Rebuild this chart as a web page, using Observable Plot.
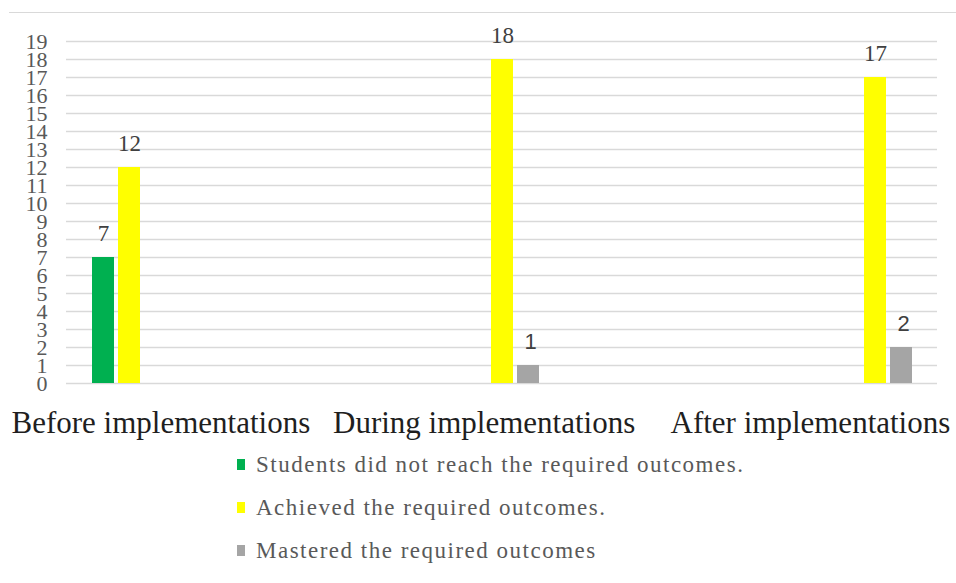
<!DOCTYPE html>
<html>
<head>
<meta charset="utf-8">
<script src="https://cdn.jsdelivr.net/npm/d3@7"></script>
<script src="https://cdn.jsdelivr.net/npm/@observablehq/plot@0.6"></script>
<style>
  body { margin: 0; background: #fff; }
  #chart { position: relative; width: 956px; height: 583px; overflow: hidden; background: #fff; }
  #chart > svg { position: absolute; left: 0; top: 0; }
  #topline { position: absolute; left: 9px; top: 12px; width: 947px; border-top: 1.5px solid #d9d9d9; }
  #legend { position: absolute; left: 237px; top: 443px; font-family: "Liberation Serif", "Times New Roman", serif;
            font-size: 23px; color: #595959; letter-spacing: 1.5px; }
  #legend .row { display: flex; align-items: center; height: 43px; white-space: nowrap; }
  #legend .sw { width: 8px; height: 11px; margin-right: 11px; flex: none; }
</style>
</head>
<body>
<div id="chart"><div id="topline"></div></div>
<script>
// Categories and series
const periods = ["Before implementations", "During implementations", "After implementations"];
const seriesNames = [
  "Students did not reach the required outcomes.",
  "Achieved the required outcomes.",
  "Mastered the required outcomes"
];
// Values per series, one entry per period (null = no bar)
const notReached = [7, null, null];
const achieved = [12, 18, 17];
const mastered = [null, 1, 2];
const seriesColors = ["#00b050", "#ffff00", "#a5a5a5"];
const yTicks = [0, 1, 2, 3, 4, 5, 6, 7, 8, 9, 10, 11, 12, 13, 14, 15, 16, 17, 18, 19];

const seriesValues = [notReached, achieved, mastered];
const rows = [];
periods.forEach((p, i) => {
  seriesNames.forEach((s, j) => {
    const v = seriesValues[j][i];
    if (v != null) rows.push({period: p, series: s, value: v});
  });
});

const serif = "'Liberation Serif', 'Times New Roman', serif";
const sans = "'Liberation Sans', Arial, sans-serif";

// Shared frame geometry for both layers
const frame = {width: 956, height: 444, marginLeft: 66, marginRight: 19, marginTop: 41, marginBottom: 61};
const yScale = {domain: [0, 19], label: null};

// Back layer: full-width gridlines and the value axis
const back = Plot.plot({
  ...frame,
  style: {background: "transparent", overflow: "visible", fontFamily: serif},
  y: yScale,
  marks: [
    Plot.ruleY(yTicks, {y: d => d, stroke: "#d9d9d9", strokeWidth: 1.4}),
    Plot.axisY({
      ticks: yTicks, tickSize: 0, tickPadding: 19,
      fontSize: 22, fontFamily: serif, color: "#595959", label: null
    })
  ]
});

// Category labels, left-aligned relative to each cluster
const labelShift = {
  "Before implementations": -118,
  "During implementations": -169.5,
  "After implementations": -205
};
const categoryLabels = periods.map(p =>
  Plot.text([p], {
    fx: d => d, text: d => d,
    frameAnchor: "bottom", textAnchor: "start", lineAnchor: "bottom",
    dx: labelShift[p], dy: 49,
    fontSize: 31, fontFamily: serif, fill: "#1f1f1f"
  })
);

// Front layer: clustered bars, one facet per period
const front = Plot.plot({
  ...frame,
  style: {background: "transparent", overflow: "visible", fontFamily: serif},
  fx: {domain: periods, paddingInner: 0.8018, paddingOuter: 0.067, axis: null, label: null},
  x: {domain: seriesNames, paddingInner: 0.154, paddingOuter: 0, axis: null, label: null},
  y: {...yScale, axis: null},
  color: {domain: seriesNames, range: seriesColors},
  marks: [
    Plot.barY(rows, {fx: "period", x: "series", y: "value", fill: "series"}),
    Plot.text(rows.filter(d => d.series !== seriesNames[2]), {
      fx: "period", x: "series", y: "value", text: d => String(d.value),
      dy: -24, fontSize: 23, fontFamily: serif, fill: "#404040"
    }),
    Plot.text(rows.filter(d => d.series === seriesNames[2]), {
      fx: "period", x: "series", y: "value", text: d => String(d.value),
      dx: 2, dy: -24, fontSize: 22, fontFamily: sans, fill: "#404040"
    }),
    ...categoryLabels
  ]
});

const chart = document.getElementById("chart");
chart.appendChild(back);
chart.appendChild(front);

// Legend: one entry per row, swatch colours from the plot's colour scale
const color = front.scale("color");
const legend = document.createElement("div");
legend.id = "legend";
color.domain.forEach((name, i) => {
  const row = document.createElement("div");
  row.className = "row";
  const sw = document.createElement("span");
  sw.className = "sw";
  sw.style.background = color.range[i];
  const label = document.createElement("span");
  label.textContent = name;
  row.appendChild(sw);
  row.appendChild(label);
  legend.appendChild(row);
});
chart.appendChild(legend);
</script>
</body>
</html>
